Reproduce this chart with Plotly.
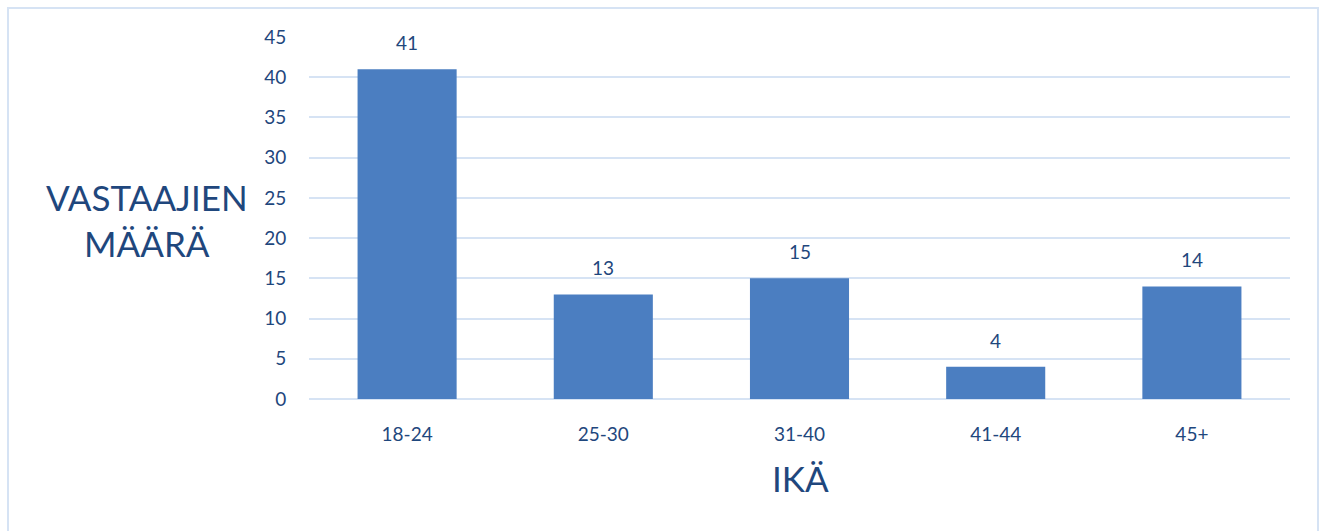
import plotly.graph_objects as go

categories = ["18-24", "25-30", "31-40", "41-44", "45+"]
values = [41, 13, 15, 4, 14]
y_ticks = [0, 5, 10, 15, 20, 25, 30, 35, 40, 45]

text_color = "#1f477d"
grid_color = "#d6e3f4"
bar_color = "#4b7ec1"
font_family = "Lato, 'Open Sans', sans-serif"

W, H = 1325, 531
ml, mr, mt, mb = 309, 35, 37, 132
pw, ph = W - ml - mr, H - mt - mb

fig = go.Figure()
fig.add_trace(go.Bar(
    x=categories, y=values,
    marker=dict(color=bar_color, line=dict(width=0)),
    width=0.505,
    hoverinfo="x+y",
))

for c, v in zip(categories, values):
    fig.add_annotation(x=c, y=v, text=str(v), showarrow=False, yanchor="bottom",
                       xanchor="center", yshift=13,
                       font=dict(size=19, color=text_color, family=font_family))

def px_to_paper_x(px):
    return (px - ml) / pw

def px_to_paper_y(py):
    return (H - mb - py) / ph

# axis titles
fig.add_annotation(xref="paper", yref="paper", x=px_to_paper_x(147), y=px_to_paper_y(220),
                   xanchor="center", yanchor="middle",
                   text="VASTAAJIEN<br>MÄÄRÄ", showarrow=False, align="center",
                   font=dict(size=35, color=text_color, family=font_family))
fig.add_annotation(xref="paper", yref="paper", x=px_to_paper_x(800), y=px_to_paper_y(478),
                   xanchor="center", yanchor="middle",
                   text="IKÄ", showarrow=False,
                   font=dict(size=35, color=text_color, family=font_family))

# outer border
fig.add_shape(type="rect", xref="paper", yref="paper",
              x0=px_to_paper_x(8), x1=px_to_paper_x(1318),
              y0=px_to_paper_y(545), y1=px_to_paper_y(8),
              line=dict(color=grid_color, width=2), fillcolor="rgba(0,0,0,0)", layer="below")

fig.update_layout(
    width=W, height=H,
    margin=dict(l=ml, r=mr, t=mt, b=mb),
    plot_bgcolor="white", paper_bgcolor="white",
    showlegend=False,
    font=dict(family=font_family, color=text_color, size=19),
    xaxis=dict(showgrid=False, showline=False, zeroline=False,
               ticks="outside", ticklen=18, tickcolor="rgba(0,0,0,0)",
               tickfont=dict(size=19, color=text_color)),
    yaxis=dict(range=[0, 45], tickvals=y_ticks, showgrid=True, gridcolor=grid_color, gridwidth=2,
               zeroline=True, zerolinecolor=grid_color, zerolinewidth=2, showline=False,
               ticks="outside", ticklen=18, tickcolor="rgba(0,0,0,0)",
               tickfont=dict(size=19, color=text_color)),
)

fig.write_html("out.html", config={"displayModeBar": False},
               post_script="document.body.style.margin='0';document.body.style.overflow='hidden';")
